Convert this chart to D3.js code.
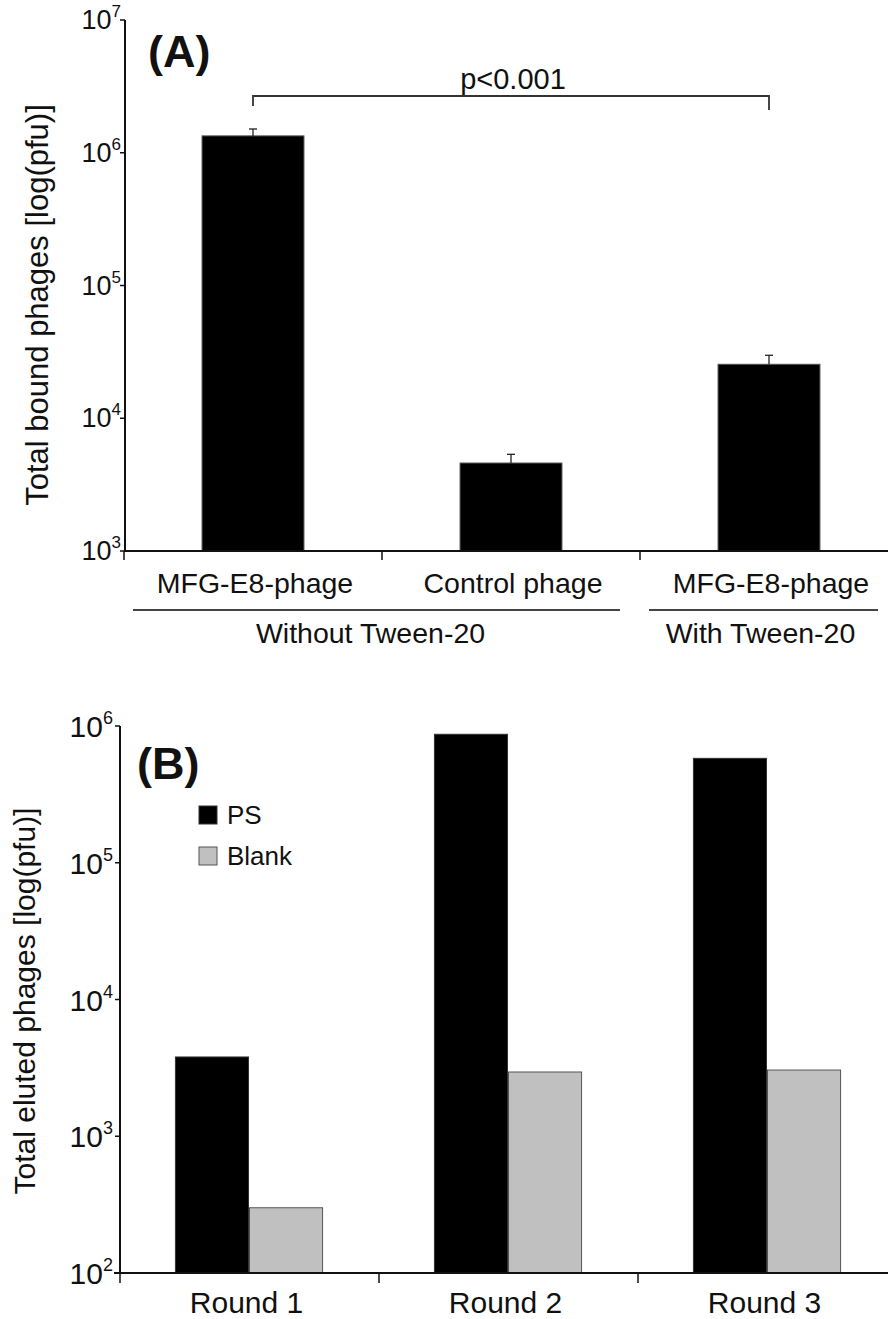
<!DOCTYPE html>
<head>
<meta charset="utf-8">
<script src="https://d3js.org/d3.v7.min.js" charset="utf-8"></script>
</head>
<body>
<div id="chart"></div>
<style>
  body {margin:0;background:#fff;}
  svg text {font-family:"Liberation Sans", Arial, sans-serif;fill:#111;}
</style>
<script>
// panel A data
const catsA = ["MFG-E8-phage", "Control phage", "MFG-E8-phage"];
const valsA = [1.34e6, 4.6e3, 2.55e4];
const errA = [1.7e5, 0.75e3, 4.3e3];
const groupsA = ["Without Tween-20", "With Tween-20"];
const groupSpan = [[0, 1], [2, 2]];
const ticksA = [3, 4, 5, 6, 7];
const pText = "p<0.001";

// panel B data
const rounds = ["Round 1", "Round 2", "Round 3"];
const series = ["PS", "Blank"];
const psVals = [3.8e3, 8.7e5, 5.8e5];
const blankVals = [300, 2.95e3, 3.05e3];
const ticksB = [2, 3, 4, 5, 6];

const width = 888, height = 1319;
const svg = d3.select("#chart").append("svg")
  .attr("width", width).attr("height", height);

function powLabel(sel, e, big, small, lift) {
  sel.append("tspan").text("10").style("font-size", big + "px");
  sel.append("tspan").text(e).style("font-size", small + "px").attr("dy", -lift);
}

// ---------- Panel A ----------
const yA = d3.scaleLog().domain([1e3, 1e7]).range([551, 20]);
const xA = d3.scaleBand().domain(d3.range(catsA.length)).range([124, 898]);
const barWA = xA.bandwidth() * 0.395;
const gA = svg.append("g");

gA.selectAll(".barA").data(valsA).enter().append("rect")
  .attr("x", (d, i) => xA(i) + (xA.bandwidth() - barWA) / 2)
  .attr("y", d => yA(d))
  .attr("width", barWA)
  .attr("height", d => yA(1e3) - yA(d))
  .attr("fill", "#000").attr("stroke", "#555").attr("stroke-width", 1);

// error bars (upper only)
valsA.forEach((v, i) => {
  const cx = xA(i) + xA.bandwidth() / 2;
  gA.append("line").attr("x1", cx).attr("x2", cx)
    .attr("y1", yA(v)).attr("y2", yA(v + errA[i]))
    .attr("stroke", "#222").attr("stroke-width", 1.3);
  gA.append("line").attr("x1", cx - 4).attr("x2", cx + 4)
    .attr("y1", yA(v + errA[i])).attr("y2", yA(v + errA[i]))
    .attr("stroke", "#222").attr("stroke-width", 1.3);
});

// axes
gA.append("line").attr("x1", 125).attr("x2", 125).attr("y1", yA(1e7)).attr("y2", yA(1e3))
  .attr("stroke", "#111").attr("stroke-width", 2);
gA.append("line").attr("x1", 124).attr("x2", width).attr("y1", yA(1e3)).attr("y2", yA(1e3))
  .attr("stroke", "#111").attr("stroke-width", 2);
ticksA.forEach(e => {
  const y = yA(Math.pow(10, e));
  gA.append("line").attr("x1", 120).attr("x2", 125).attr("y1", y).attr("y2", y)
    .attr("stroke", "#111").attr("stroke-width", 1.5);
  const t = gA.append("text").attr("x", 121).attr("y", y + 9).attr("text-anchor", "end");
  powLabel(t, e, 27, 17, 12);
});
d3.range(catsA.length + 1).forEach(i => {
  const x = i < catsA.length ? xA(i) : xA(catsA.length - 1) + xA.bandwidth();
  gA.append("line").attr("x1", x).attr("x2", x).attr("y1", yA(1e3)).attr("y2", yA(1e3) + 9)
    .attr("stroke", "#111").attr("stroke-width", 1.5);
});

gA.selectAll(".catA").data(catsA).enter().append("text")
  .attr("x", (d, i) => xA(i) + xA.bandwidth() / 2 + 2)
  .attr("y", 593).attr("text-anchor", "middle")
  .style("font-size", "28.5px").text(d => d);

groupsA.forEach((g, k) => {
  const x0 = xA(groupSpan[k][0]) + 9;
  const x1 = xA(groupSpan[k][1]) + xA.bandwidth() - 20;
  gA.append("line").attr("x1", x0).attr("x2", x1).attr("y1", 610).attr("y2", 610)
    .attr("stroke", "#444").attr("stroke-width", 1.8);
  gA.append("text").attr("x", k === 0 ? (x0 + x1) / 2 - 6 : (x0 + x1) / 2 - 3)
    .attr("y", 643).attr("text-anchor", "middle")
    .style("font-size", "28.5px").text(g);
});

// significance bracket
const bx0 = xA(0) + xA.bandwidth() / 2, bx1 = xA(2) + xA.bandwidth() / 2;
gA.append("path")
  .attr("d", `M${bx0},106 V96 H${bx1} V110`)
  .attr("fill", "none").attr("stroke", "#333").attr("stroke-width", 1.8);
gA.append("text").attr("x", (bx0 + bx1) / 2 + 2).attr("y", 89).attr("text-anchor", "middle")
  .style("font-size", "29px").text(pText);

gA.append("text").attr("x", 148).attr("y", 67)
  .style("font-size", "45px").style("font-weight", "bold").text("(A)");

gA.append("text")
  .attr("transform", "translate(48,305) rotate(-90)")
  .attr("text-anchor", "middle").style("font-size", "31px")
  .text("Total bound phages [log(pfu)]");

// ---------- Panel B ----------
const yB = d3.scaleLog().domain([1e2, 1e6]).range([1273, 726]);
const xB = d3.scaleBand().domain(rounds).range([120, 897]);
const bw = xB.bandwidth();
const xB1 = d3.scaleBand().domain(series).range([bw * 0.214, bw * 0.786]);
const colors = {PS: "#000", Blank: "#c0c0c0"};
const strokes = {PS: "#333", Blank: "#555"};
const gB = svg.append("g");

const rowsB = rounds.map((r, i) => ({round: r, PS: psVals[i], Blank: blankVals[i]}));
gB.selectAll(".rnd").data(rowsB).enter().append("g")
  .attr("transform", d => `translate(${xB(d.round)},0)`)
  .selectAll("rect").data(d => series.map(s => ({s: s, v: d[s]}))).enter().append("rect")
  .attr("x", d => xB1(d.s))
  .attr("y", d => yB(d.v))
  .attr("width", xB1.bandwidth() - 1)
  .attr("height", d => yB(1e2) - yB(d.v))
  .attr("fill", d => colors[d.s]).attr("stroke", d => strokes[d.s]).attr("stroke-width", 1);

gB.append("line").attr("x1", 120).attr("x2", 120).attr("y1", yB(1e6)).attr("y2", yB(1e2))
  .attr("stroke", "#111").attr("stroke-width", 2);
gB.append("line").attr("x1", 114).attr("x2", width).attr("y1", yB(1e2)).attr("y2", yB(1e2))
  .attr("stroke", "#111").attr("stroke-width", 2);
ticksB.forEach(e => {
  const y = yB(Math.pow(10, e));
  gB.append("line").attr("x1", 115).attr("x2", 120).attr("y1", y).attr("y2", y)
    .attr("stroke", "#111").attr("stroke-width", 1.5);
  const t = gB.append("text").attr("x", 113).attr("y", y + 11).attr("text-anchor", "end");
  powLabel(t, e, 30, 18, 13);
});
rounds.forEach(r => {
  gB.append("line").attr("x1", xB(r)).attr("x2", xB(r)).attr("y1", yB(1e2)).attr("y2", yB(1e2) + 10)
    .attr("stroke", "#111").attr("stroke-width", 1.5);
});
gB.selectAll(".catB").data(rounds).enter().append("text")
  .attr("x", d => xB(d) + bw / 2 - 3).attr("y", 1313).attr("text-anchor", "middle")
  .style("font-size", "30px").text(d => d);

// legend
series.forEach((s, i) => {
  gB.append("rect").attr("x", 199).attr("y", 806 + i * 41).attr("width", 18).attr("height", 18)
    .attr("fill", colors[s]).attr("stroke", strokes[s]).attr("stroke-width", 1);
  gB.append("text").attr("x", 227).attr("y", 824 + i * 41)
    .style("font-size", "26px").text(s);
});

gB.append("text").attr("x", 137).attr("y", 779)
  .style("font-size", "45px").style("font-weight", "bold").text("(B)");

gB.append("text")
  .attr("transform", "translate(35,1001) rotate(-90)")
  .attr("text-anchor", "middle").style("font-size", "30px")
  .text("Total eluted phages [log(pfu)]");
</script>
</body>
